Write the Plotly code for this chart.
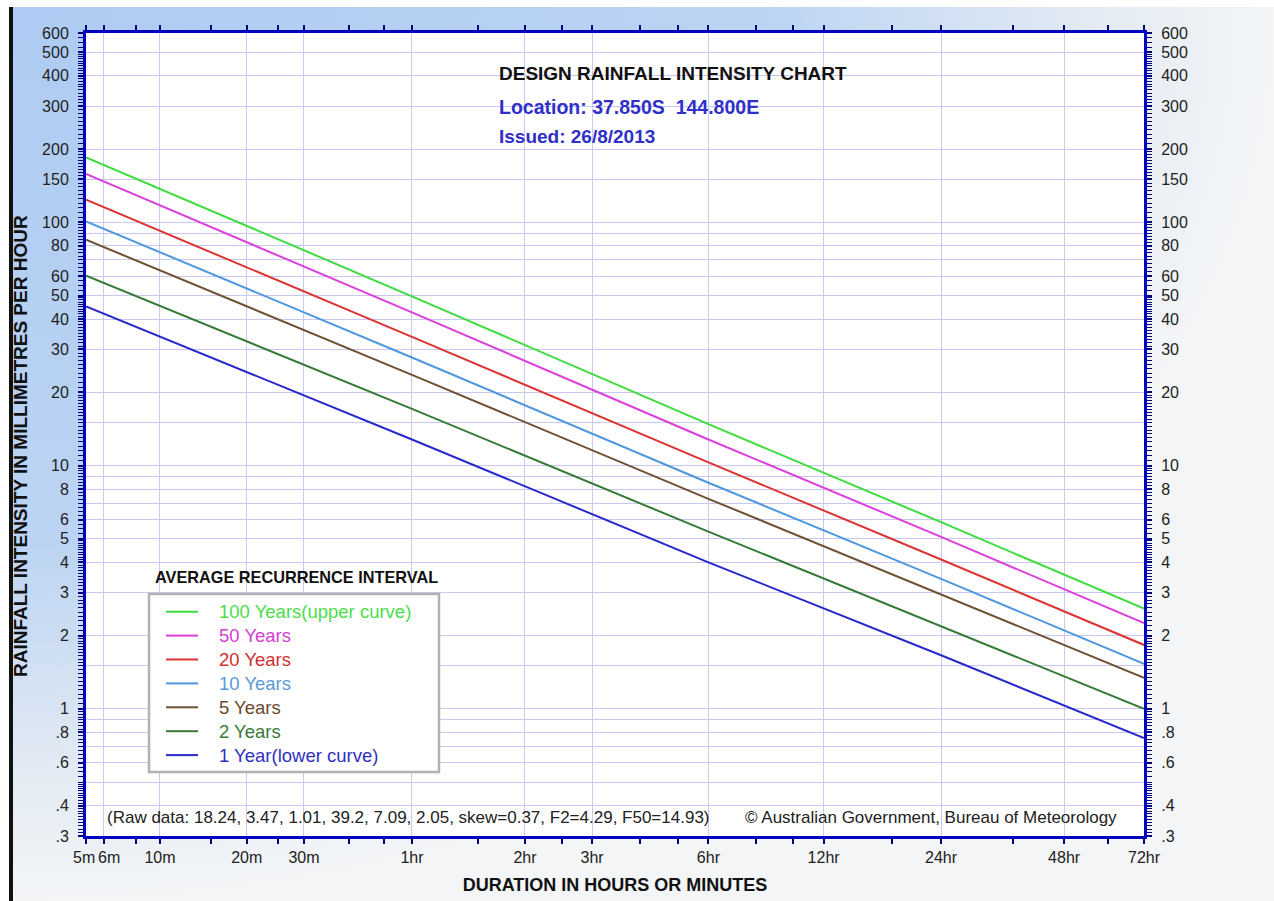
import base64
import numpy as np
import plotly.graph_objects as go

# ---------------------------------------------------------------------------
# Data: rainfall intensity (mm/h) for each average recurrence interval,
# read at a set of storm durations (minutes)
# ---------------------------------------------------------------------------
durations_min = [5, 30, 60, 360, 1440, 4320]

ari_names = [
    "100 Years(upper curve)",
    "50 Years",
    "20 Years",
    "10 Years",
    "5 Years",
    "2 Years",
    "1 Year(lower curve)",
]
intensity_100y = [184.9, 76.7, 49.6, 14.8, 5.85, 2.58]
intensity_50y = [158.0, 65.8, 42.6, 12.8, 5.09, 2.25]
intensity_20y = [123.8, 52.0, 33.8, 10.3, 4.11, 1.83]
intensity_10y = [100.9, 42.6, 27.8, 8.5, 3.42, 1.53]
intensity_5y = [84.8, 36.1, 23.6, 7.3, 2.96, 1.34]
intensity_2y = [60.3, 25.9, 17.1, 5.35, 2.19, 1.00]
intensity_1y = [45.1, 19.4, 12.8, 4.0, 1.66, 0.758]

# Duration axis ticks (minutes) and their labels
x_tick_min = [5, 6, 10, 20, 30, 60, 120, 180, 360, 720, 1440, 2880, 4320]
x_tick_text = ["5m", "6m", "10m", "20m", "30m", "1hr", "2hr", "3hr",
               "6hr", "12hr", "24hr", "48hr", "72hr"]
x_minor_min = [8, 15, 25, 40, 50, 90, 150, 240, 300, 480, 600, 1080, 2160, 3600]

# Intensity axis: grid values and the subset that carries a label
y_grid_vals = [600, 500, 400, 300, 200, 150, 100, 90, 80, 70, 60, 50, 40, 30,
               20, 15, 10, 9, 8, 7, 6, 5, 4, 3, 2, 1.5, 1, 0.9, 0.8, 0.7,
               0.6, 0.5, 0.4, 0.3]
y_labelled = {600: "600", 500: "500", 400: "400", 300: "300", 200: "200",
              150: "150", 100: "100", 80: "80", 60: "60", 50: "50", 40: "40",
              30: "30", 20: "20", 10: "10", 8: "8", 6: "6", 5: "5", 4: "4",
              3: "3", 2: "2", 1: "1", 0.8: ".8", 0.6: ".6", 0.4: ".4",
              0.3: ".3"}

# ---------------------------------------------------------------------------
# Duration scale of the chart paper (log-like, stretched at long durations)
# ---------------------------------------------------------------------------
SCALE_DUR = [5, 6, 10, 20, 30, 60, 120, 180, 360, 720, 1440, 2880, 4320]
SCALE_POS = [0.0, 0.0170, 0.0699, 0.1519, 0.2060, 0.3081, 0.4149, 0.4783,
             0.5883, 0.6972, 0.8082, 0.9245, 1.0]


def dpos(minutes):
    return np.interp(np.log10(np.asarray(minutes, dtype=float)),
                     np.log10(SCALE_DUR), SCALE_POS)


# ---------------------------------------------------------------------------
# Styling
# ---------------------------------------------------------------------------
FONT = "Liberation Sans, Arial, sans-serif"
AXIS_BLUE = "#0000c0"
TICK_COL = "#00007a"
GRID_COL = "#c8c8f2"

line_colours = ["#3ddc3d", "#dd3fdd", "#dd3333", "#4f97dd", "#6e5033",
                "#357a35", "#2828cc"]
label_colours = ["#4cdc4c", "#d040d0", "#d03030", "#5a9ad8", "#6b4a30",
                 "#3a7a3a", "#3030c0"]
series_vals = [intensity_100y, intensity_50y, intensity_20y, intensity_10y,
               intensity_5y, intensity_2y, intensity_1y]

W, H = 1274, 901
ML, MR, MT, MB = 86, 130, 33, 65
PW, PH = W - ML - MR, H - MT - MB


def px_x(px):
    return (px - ML) / PW


def px_y(py):
    return (MT + PH - py) / PH


fig = go.Figure()
x_vals = dpos(durations_min)
for vals, col, name in zip(series_vals, line_colours, ari_names):
    fig.add_trace(go.Scatter(
        x=x_vals, y=vals, mode="lines",
        line=dict(color=col, width=2),
        name=name, hoverinfo="skip", showlegend=False,
    ))

# carrier for the right-hand intensity axis
fig.add_trace(go.Scatter(
    x=x_vals[:1], y=intensity_2y[:1], yaxis="y2", mode="markers",
    marker=dict(opacity=0), showlegend=False, hoverinfo="skip",
))

# y minor ticks: dense log-paper ticks
y_minor = []
for dec in [0.1, 1, 10, 100]:
    for v in np.arange(1.0, 2.0, 0.05):
        y_minor.append(round(v * dec, 4))
    for v in np.arange(2.0, 5.0, 0.1):
        y_minor.append(round(v * dec, 4))
    for v in np.arange(5.0, 10.0, 0.25):
        y_minor.append(round(v * dec, 4))
y_minor = [v for v in y_minor if 0.3 <= v <= 600]

y_ticktext = [y_labelled.get(v, "") for v in y_grid_vals]
y_range = [np.log10(0.3), np.log10(600)]

yaxis_common = dict(
    type="log", range=y_range, tickmode="array",
    tickvals=y_grid_vals, ticktext=y_ticktext,
    ticks="outside", ticklen=5, tickwidth=1.5, tickcolor=TICK_COL,
    showline=True, linecolor=AXIS_BLUE, linewidth=3,
    tickfont=dict(family=FONT, size=16, color="#222222"),
    ticklabelstandoff=6, automargin=False,
    minor=dict(tickvals=y_minor, ticks="outside", ticklen=5,
               tickwidth=1, tickcolor=TICK_COL, showgrid=False),
    zeroline=False, fixedrange=True,
)

# the two closely spaced first labels are placed by hand
x_ticktext_axis = ["", ""] + x_tick_text[2:]

fig.update_layout(
    width=W, height=H,
    margin=dict(l=ML, r=MR, t=MT, b=MB, autoexpand=False),
    paper_bgcolor="white",
    plot_bgcolor="rgba(0,0,0,0)",
    font=dict(family=FONT, color="#222222"),
    showlegend=False,
    xaxis=dict(
        type="linear", range=[0, 1], tickmode="array",
        tickvals=list(dpos(x_tick_min)), ticktext=x_ticktext_axis, tickangle=0,
        ticks="outside", ticklen=5, tickwidth=1.5, tickcolor=TICK_COL,
        showline=True, linecolor=AXIS_BLUE, linewidth=3, mirror="ticks",
        showgrid=True, gridcolor=GRID_COL, gridwidth=1, automargin=False,
        tickfont=dict(family=FONT, size=16, color="#222222"),
        minor=dict(tickvals=list(dpos(x_minor_min)), ticks="outside",
                   ticklen=5, tickwidth=1.5, tickcolor=TICK_COL,
                   showgrid=False),
        zeroline=False, fixedrange=True,
        title=dict(text="<b>DURATION IN HOURS OR MINUTES</b>",
                   font=dict(family=FONT, size=18, color="#111111"),
                   standoff=14),
    ),
    yaxis=dict(showgrid=True, gridcolor=GRID_COL, gridwidth=1,
               side="left", **yaxis_common),
    yaxis2=dict(overlaying="y", side="right", showgrid=False,
                **yaxis_common),
)

# background panel: soft blue gradient behind a white plotting area
bg_svg = f"""<svg xmlns="http://www.w3.org/2000/svg" width="{W}" height="{H}" viewBox="0 0 {W} {H}" preserveAspectRatio="none">
<defs><radialGradient id="g" cx="0" cy="0" r="1" gradientUnits="objectBoundingBox">
<stop offset="0" stop-color="#aecbf3"/>
<stop offset="0.6" stop-color="#bcd4f3"/>
<stop offset="0.85" stop-color="#e2eaf3"/>
<stop offset="1" stop-color="#f3f5f7"/>
</radialGradient></defs>
<rect width="{W}" height="{H}" fill="#ffffff"/>
<rect x="13" y="7" width="{W - 13}" height="{H - 7}" fill="url(#g)"/>
<rect x="9" y="7" width="4" height="{H - 7}" fill="#111111"/>
<rect x="{ML}" y="{MT}" width="{PW}" height="{PH}" fill="#ffffff"/>
</svg>"""
bg_uri = "data:image/svg+xml;base64," + base64.b64encode(bg_svg.encode()).decode()
fig.add_layout_image(dict(
    source=bg_uri, xref="paper", yref="paper",
    x=-ML / PW, y=1 + MT / PH, sizex=W / PW, sizey=H / PH,
    xanchor="left", yanchor="top", sizing="stretch", layer="below",
))

# first two duration labels
x0_px = ML + PW * dpos(5)
x1_px = ML + PW * dpos(6)
for txt, xp, anchor in [("5m", x0_px + 11, "right"), ("6m", x1_px - 7.5, "left")]:
    fig.add_annotation(text=txt, x=px_x(xp), y=px_y(857), xref="paper",
                       yref="paper", xanchor=anchor, yanchor="middle",
                       showarrow=False,
                       font=dict(family=FONT, size=16, color="#222222"))

notes = [
    dict(text="<b>DESIGN RAINFALL INTENSITY CHART</b>", x=px_x(497), y=px_y(74),
         color="#111111", size=19),
    dict(text="<b>Location: 37.850S  144.800E</b>", x=px_x(497), y=px_y(107),
         color="#3030c8", size=19.5),
    dict(text="<b>Issued: 26/8/2013</b>", x=px_x(497), y=px_y(137),
         color="#3030c8", size=19),
    dict(text="<b>AVERAGE RECURRENCE INTERVAL</b>", x=px_x(153), y=px_y(577),
         color="#111111", size=16.3),
    dict(text="(Raw data: 18.24, 3.47, 1.01, 39.2, 7.09, 2.05, skew=0.37, F2=4.29, F50=14.93)",
         x=px_x(105), y=px_y(817), color="#222222", size=17),
]
for n in notes:
    fig.add_annotation(text=n["text"], x=n["x"], y=n["y"], xref="paper",
                       yref="paper", xanchor="left", yanchor="middle",
                       showarrow=False,
                       font=dict(family=FONT, size=n["size"], color=n["color"]))

fig.add_annotation(text="\u00a9 Australian Government, Bureau of Meteorology",
                   x=px_x(1119), y=px_y(817), xref="paper", yref="paper",
                   xanchor="right", yanchor="middle", showarrow=False,
                   font=dict(family=FONT, size=17, color="#222222"))

fig.add_annotation(text="<b>RAINFALL INTENSITY IN MILLIMETRES PER HOUR</b>",
                   x=px_x(20), y=px_y(446), xref="paper", yref="paper",
                   xanchor="center", yanchor="middle", textangle=-90,
                   showarrow=False,
                   font=dict(family=FONT, size=19, color="#111111"))

# ---------------------------------------------------------------------------
# Recurrence-interval key: bordered box, line samples and coloured names
# ---------------------------------------------------------------------------
KEY_L, KEY_R, KEY_T, KEY_B = 149, 439, 594, 772
ROW0, ROW_STEP = 611.7, 23.9
fig.add_shape(type="rect", xref="paper", yref="paper",
              x0=px_x(KEY_L), x1=px_x(KEY_R), y0=px_y(KEY_B), y1=px_y(KEY_T),
              fillcolor="white", line=dict(color="#b2b2b2", width=2.5),
              layer="above")
for i, (name, lcol, tcol) in enumerate(zip(ari_names, line_colours,
                                            label_colours)):
    ry = ROW0 + i * ROW_STEP
    fig.add_shape(type="line", xref="paper", yref="paper",
                  x0=px_x(166), x1=px_x(198), y0=px_y(ry), y1=px_y(ry),
                  line=dict(color=lcol, width=2), layer="above")
    fig.add_annotation(text=name, x=px_x(217), y=px_y(ry), xref="paper",
                       yref="paper", xanchor="left", yanchor="middle",
                       showarrow=False,
                       font=dict(family=FONT, size=18.5, color=tcol))

fig.write_html("out.html")
